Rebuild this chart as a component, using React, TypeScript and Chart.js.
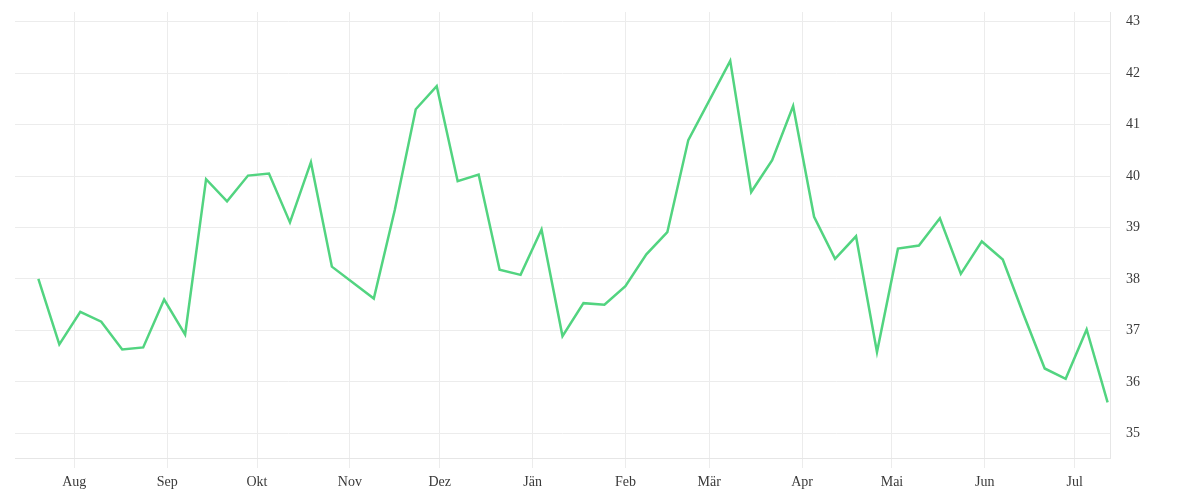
import React, { useEffect, useRef } from "react";
import { Chart, registerables } from "chart.js";

Chart.register(...registerables);

const weekDates: string[] = [
  "2022-07-20", "2022-07-27", "2022-08-03", "2022-08-10", "2022-08-17", "2022-08-24", "2022-08-31",
  "2022-09-07", "2022-09-14", "2022-09-21", "2022-09-28", "2022-10-05", "2022-10-12", "2022-10-19",
  "2022-10-26", "2022-11-02", "2022-11-09", "2022-11-16", "2022-11-23", "2022-11-30", "2022-12-07",
  "2022-12-14", "2022-12-21", "2022-12-28", "2023-01-04", "2023-01-11", "2023-01-18", "2023-01-25",
  "2023-02-01", "2023-02-08", "2023-02-15", "2023-02-22", "2023-03-01", "2023-03-08", "2023-03-15",
  "2023-03-22", "2023-03-29", "2023-04-05", "2023-04-12", "2023-04-19", "2023-04-26", "2023-05-03",
  "2023-05-10", "2023-05-17", "2023-05-24", "2023-05-31", "2023-06-07", "2023-06-14", "2023-06-21",
  "2023-06-28", "2023-07-05", "2023-07-12",
];

const weekValues: (number | null)[] = [
  38.0, 36.73, 37.36, 37.17, 36.63, 36.67, 37.6, 36.92, 39.94, 39.51, 40.01, 40.05, 39.1, 40.27,
  38.24, null, 37.62, 39.34, 41.3, 41.75, 39.9, 40.03, 38.18, 38.08, 38.96, 36.89, 37.53, 37.5,
  37.86, 38.48, 38.91, 40.7, null, 42.24, 39.69, 40.31, 41.36, 39.21, 38.39, 38.83, 36.58, 38.59,
  38.65, 39.18, 38.1, 38.73, 38.38, 37.3, 36.26, 36.06, 37.02, 35.6,
];

const monthStarts: string[] = [
  "2022-08-01", "2022-09-01", "2022-10-01", "2022-11-01", "2022-12-01", "2023-01-01",
  "2023-02-01", "2023-03-01", "2023-04-01", "2023-05-01", "2023-06-01", "2023-07-01",
];
const monthLabels: string[] = ["Aug", "Sep", "Okt", "Nov", "Dez", "Jän", "Feb", "Mär", "Apr", "Mai", "Jun", "Jul"];

const yTicks: number[] = [35, 36, 37, 38, 39, 40, 41, 42, 43];

const ORIGIN = Date.UTC(2022, 7, 1);
const toDay = (s: string) => {
  const [y, m, d] = s.split("-").map(Number);
  return (Date.UTC(y, m - 1, d) - ORIGIN) / 86400000;
};

export default function App() {
  const ref = useRef<HTMLCanvasElement | null>(null);
  useEffect(() => {
    if (!ref.current) return;
    const points = weekDates.map((d, i) => ({ x: toDay(d), y: weekValues[i] }));
    const monthDays = monthStarts.map(toDay);
    const font = { family: "'Liberation Serif', serif", size: 14 };
    const chart = new Chart(ref.current, {
      type: "line",
      data: {
        datasets: [
          {
            data: points as any,
            borderColor: "#52d480",
            borderWidth: 2.5,
            pointRadius: 0,
            tension: 0,
            spanGaps: true,
            fill: false,
          },
        ],
      },
      options: {
        animation: false,
        responsive: true,
        maintainAspectRatio: false,
        layout: { padding: { top: 4, left: 7, right: 0, bottom: 0 } },
        plugins: { legend: { display: false }, tooltip: { enabled: false } },
        scales: {
          x: {
            type: "linear",
            min: -19.8,
            max: 345.8,
            afterBuildTicks: (scale: any) => {
              scale.ticks = monthDays.map((v) => ({ value: v }));
            },
            afterFit: (scale: any) => {
              scale.height = 34;
              scale.paddingLeft = 0;
              scale.paddingRight = 0;
              scale.paddingTop = 0;
              scale.paddingBottom = 0;
            },
            grid: { color: "#ececec", lineWidth: 1, tickLength: 10, drawTicks: true },
            border: { color: "#e6e6e6", width: 1 },
            ticks: {
              font,
              color: "#3a3a3a",
              padding: 6,
              maxRotation: 0,
              autoSkip: false,
              callback: (_v: any, i: number) => monthLabels[i],
            },
          },
          y: {
            type: "linear",
            position: "right",
            min: 34.52,
            max: 43.19,
            afterBuildTicks: (scale: any) => {
              scale.ticks = yTicks.map((v) => ({ value: v }));
            },
            afterFit: (scale: any) => {
              scale.width = 82;
              scale.paddingTop = 0;
              scale.paddingBottom = 0;
              scale.paddingLeft = 0;
              scale.paddingRight = 0;
            },
            grid: { color: "#ececec", lineWidth: 1, drawTicks: false },
            border: { color: "#e6e6e6", width: 1 },
            ticks: {
              font,
              color: "#3a3a3a",
              padding: 16,
              callback: (v: any) => String(v),
            },
          },
        },
      },
    });
    return () => chart.destroy();
  }, []);
  return (
    <div style={{ width: 1184, height: 484, position: "relative" }}>
      <canvas ref={ref} />
    </div>
  );
}
